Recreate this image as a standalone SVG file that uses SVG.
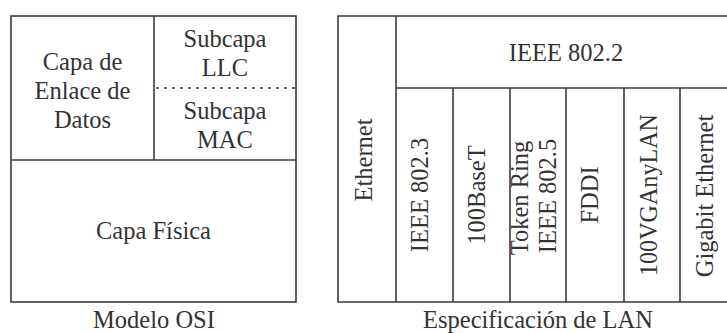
<svg xmlns="http://www.w3.org/2000/svg" width="727" height="333" viewBox="0 0 727 333">
<style>
.ln{stroke:#3a3a3a;stroke-width:1.6;fill:none}
.dot{stroke:#3a3a3a;stroke-width:1.6;stroke-dasharray:3 5;fill:none}
text{font-size:24.5px;fill:#333;text-anchor:middle}
</style>
<rect width="727" height="333" fill="#fff"/>
<g font-family="Liberation Serif, DejaVu Serif, serif">
<g id="osi">
<rect class="ln" x="11" y="16" width="285" height="286"/>
<g id="enlace">
<line class="ln" x1="154" y1="16" x2="154" y2="160"/>
<text x="82.5" y="70">Capa de</text>
<text x="82.5" y="99">Enlace de</text>
<text x="82.5" y="128">Datos</text>
</g>
<g id="llc">
<text x="225" y="47">Subcapa</text>
<text x="225" y="76">LLC</text>
</g>
<line class="dot" x1="156" y1="88" x2="296" y2="88"/>
<g id="mac">
<text x="225" y="119">Subcapa</text>
<text x="225" y="148">MAC</text>
</g>
<line class="ln" x1="11" y1="160" x2="296" y2="160"/>
<g id="fisica">
<text x="153.5" y="239">Capa Física</text>
</g>
<text x="154" y="328">Modelo OSI</text>
</g>
<g id="lan">
<path class="ln" d="M740 16H338V302H740"/>
<line class="ln" x1="396" y1="16" x2="396" y2="302"/>
<line class="ln" x1="396" y1="88" x2="740" y2="88"/>
<line class="ln" x1="453" y1="88" x2="453" y2="302"/>
<line class="ln" x1="510" y1="88" x2="510" y2="302"/>
<line class="ln" x1="566" y1="88" x2="566" y2="302"/>
<line class="ln" x1="624" y1="88" x2="624" y2="302"/>
<line class="ln" x1="680" y1="88" x2="680" y2="302"/>
<g id="ieee8022"><text x="566" y="61">IEEE 802.2</text></g>
<g id="ethernet"><text transform="translate(372,160) rotate(-90)">Ethernet</text></g>
<g id="ieee8023"><text transform="translate(428,195) rotate(-90)">IEEE 802.3</text></g>
<g id="base100t"><text transform="translate(485,195) rotate(-90)">100BaseT</text></g>
<g id="tokenring"><text transform="translate(528,198) rotate(-90)">Token Ring</text>
<text transform="translate(556,196) rotate(-90)">IEEE 802.5</text></g>
<g id="fddi"><text transform="translate(598,195) rotate(-90)">FDDI</text></g>
<g id="vganylan"><text transform="translate(657,195) rotate(-90)" textLength="162" lengthAdjust="spacingAndGlyphs">100VGAnyLAN</text></g>
<g id="gigabit"><text transform="translate(713,196) rotate(-90)">Gigabit Ethernet</text></g>
<text x="538" y="328">Especificación de LAN</text>
</g>
</g>
</svg>
